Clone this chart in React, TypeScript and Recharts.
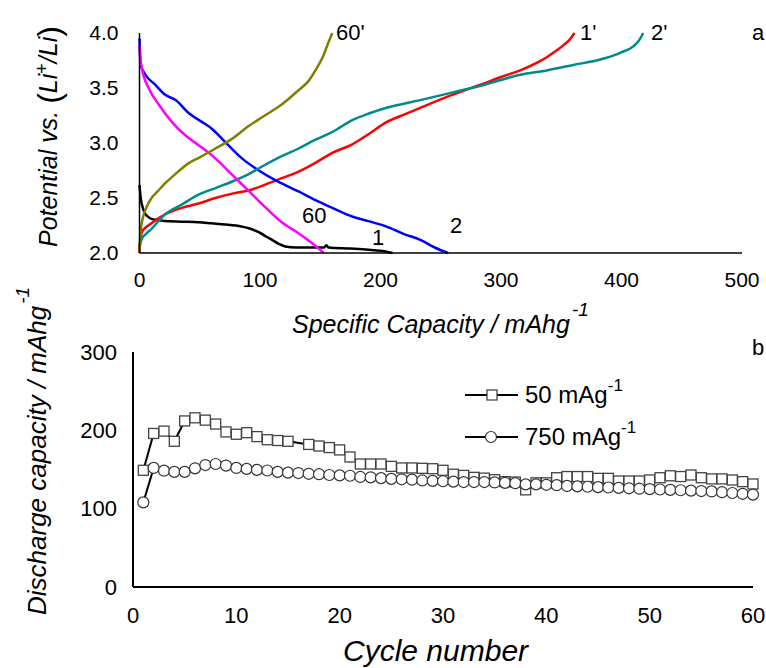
import React from 'react';
import { LineChart, Line, XAxis, YAxis } from 'recharts';

const FONT = '"Liberation Sans", Arial, Helvetica, sans-serif';

type Pt = [number, number];

// panel a: [specific capacity mAh/g, potential V]
const discharge1: Pt[] = [
  [0, 2.62], [1, 2.5], [2, 2.44], [4, 2.37], [7, 2.33], [10, 2.31], [15, 2.3], [21, 2.29],
  [35, 2.285], [49, 2.28], [60, 2.27], [71, 2.26], [80, 2.25], [85, 2.24], [92, 2.22],
  [99, 2.19], [105, 2.15], [110, 2.12], [116, 2.08], [121, 2.06], [130, 2.05], [140, 2.05],
  [153, 2.05], [155, 2.07], [157, 2.05], [175, 2.04], [190, 2.03], [200, 2.02], [210, 2.0],
];
const charge1: Pt[] = [
  [0, 2.0], [0.5, 2.1], [2, 2.19], [5, 2.23], [10, 2.27], [15, 2.31], [21, 2.35], [35, 2.41],
  [49, 2.45], [63, 2.5], [77, 2.54], [91, 2.57], [104, 2.62], [118, 2.68], [132, 2.74],
  [146, 2.82], [160, 2.91], [177, 2.99], [190, 3.08], [205, 3.19], [220, 3.26], [233, 3.32],
  [260, 3.44], [283, 3.53], [300, 3.6], [316, 3.66], [330, 3.73], [338, 3.78], [346, 3.84],
  [352, 3.89], [357, 3.94], [361, 4.0],
];
const discharge2: Pt[] = [
  [0, 3.95], [0.5, 3.78], [1, 3.71], [5, 3.62], [13, 3.53], [21, 3.44], [30, 3.39], [41, 3.27],
  [52, 3.19], [60, 3.13], [71, 3.01], [85, 2.86], [99, 2.75], [113, 2.66], [132, 2.56],
  [146, 2.48], [160, 2.41], [177, 2.33], [190, 2.29], [205, 2.24], [220, 2.17], [233, 2.12],
  [245, 2.05], [256, 2.0],
];
const charge2: Pt[] = [
  [0, 2.05], [0.5, 2.08], [2, 2.13], [5, 2.17], [10, 2.22], [21, 2.35], [35, 2.44], [49, 2.53],
  [63, 2.59], [77, 2.65], [91, 2.72], [104, 2.8], [118, 2.88], [132, 2.95], [146, 3.03],
  [160, 3.1], [177, 3.21], [191, 3.27], [205, 3.32], [233, 3.39], [260, 3.46], [283, 3.52],
  [316, 3.62], [338, 3.66], [360, 3.71], [379, 3.75], [399, 3.82], [411, 3.89], [415, 3.94],
  [418, 4.0],
];
const discharge60: Pt[] = [
  [0, 3.89], [0.5, 3.8], [2, 3.68], [7.6, 3.5], [16, 3.35], [27, 3.19], [38, 3.07], [49, 2.98],
  [63, 2.86], [77, 2.71], [91, 2.56], [104, 2.42], [118, 2.28], [132, 2.18], [143, 2.09],
  [153, 2.0],
];
const charge60: Pt[] = [
  [0, 2.02], [0.5, 2.12], [1, 2.2], [3, 2.33], [6, 2.42], [10, 2.5], [15, 2.56], [21, 2.63],
  [30, 2.72], [40, 2.81], [50, 2.87], [63, 2.95], [77, 3.04], [90, 3.15], [104, 3.25],
  [118, 3.35], [132, 3.48], [140, 3.56], [146, 3.66], [152, 3.78], [157, 3.92], [160, 4.0],
];

const capTicks = [0, 100, 200, 300, 400, 500];
const potTicks = [2, 2.5, 3, 3.5, 4];

// panel b: discharge capacity vs cycle
const cycles = [
  1, 2, 3, 4, 5, 6, 7, 8, 9, 10, 11, 12, 13, 14, 15, 16, 17, 18, 19, 20,
  21, 22, 23, 24, 25, 26, 27, 28, 29, 30, 31, 32, 33, 34, 35, 36, 37, 38, 39, 40,
  41, 42, 43, 44, 45, 46, 47, 48, 49, 50, 51, 52, 53, 54, 55, 56, 57, 58, 59, 60,
];
const cap50: (number | null)[] = [
  149, 196, 199, 186, 212, 216, 213, 208, 198, 195, 197, 192, 188, 187, 186, null, 182, 180, 178, 175,
  166, 157, 157, 157, 154, 152, 152, 151.5, 151, 149, 144, 142.5, 140, 139, 137, 134.5, 134, 124, 133, 133,
  139.5, 141, 141, 141, 138.7, 138.7, 135.3, 135.3, 135.3, 136.6, 139.5, 142, 141, 143, 139.5, 138, 138, 136.6, 134.5, 131.5,
];
const cap750 = [
  108, 152, 148.5, 147, 147, 151.5, 155.7, 157, 155, 152, 150.8, 149.5, 148.7, 147, 146, 145.5, 144.5, 144, 143, 142.5,
  142, 140.5, 140, 139, 138, 137.5, 137, 136, 135.5, 135, 134.5, 134, 134, 134, 133.5, 133, 132.5, 131, 131, 130.5,
  130, 129, 128.5, 128, 127.5, 127, 126.5, 126, 125.5, 125, 124.5, 124, 123.5, 123, 122.5, 122, 121, 120, 119, 118,
];
const cycleTicks = [0, 10, 20, 30, 40, 50, 60];
const dischargeTicks = [0, 100, 200, 300];

const curves = [
  { key: '1', color: '#000000', pts: discharge1 },
  { key: "1'", color: '#ff0000', pts: charge1 },
  { key: '2', color: '#0000ff', pts: discharge2 },
  { key: "2'", color: '#008b8b', pts: charge2 },
  { key: '60', color: '#ff00ff', pts: discharge60 },
  { key: "60'", color: '#808000', pts: charge60 },
];

const cycleRows = cycles.map((c, i) => ({ cycle: c, low: cap50[i], high: cap750[i] }));

const SquareDot = (props: any) => {
  const { cx, cy, index } = props;
  if (cx == null || cy == null || props.value == null) return <g key={`sq${index}`} />;
  return (
    <rect
      key={`sq${index}`}
      x={cx - 5}
      y={cy - 5}
      width={10}
      height={10}
      fill="#fff"
      stroke="#444"
      strokeWidth={1.3}
    />
  );
};

const tickStyle = { fontSize: 21, fill: '#000', fontFamily: FONT };

export default function App() {
  return (
    <div
      style={{
        position: 'absolute',
        left: 0,
        top: 0,
        width: 766,
        height: 668,
        background: '#fff',
        fontFamily: FONT,
      }}
    >
      <div style={{ position: 'absolute', left: 0, top: 0 }}>
        <LineChart width={766} height={330} margin={{ top: 33, right: 24, bottom: 0, left: 0 }}>
          <XAxis
            type="number"
            dataKey="x"
            domain={[0, 500]}
            ticks={capTicks}
            interval={0}
            tickLine={false}
            tickSize={0}
            tickMargin={19}
            height={77}
            axisLine={{ stroke: '#000', strokeWidth: 1.5 }}
            tick={tickStyle}
            allowDuplicatedCategory={false}
          />
          <YAxis
            type="number"
            domain={[2, 4]}
            ticks={potTicks}
            interval={0}
            tickLine={false}
            tickSize={0}
            tickMargin={21}
            width={139.5}
            axisLine={{ stroke: '#000', strokeWidth: 1.5 }}
            tick={tickStyle}
            tickFormatter={(v: number) => v.toFixed(1)}
          />
          {curves.map((c) => (
            <Line
              key={c.key}
              data={c.pts.map(([x, y]) => ({ x, y }))}
              dataKey="y"
              type="monotone"
              stroke={c.color}
              strokeWidth={2.5}
              dot={false}
              isAnimationActive={false}
            />
          ))}
        </LineChart>
      </div>

      <div style={{ position: 'absolute', left: 0, top: 330 }}>
        <LineChart
          width={766}
          height={338}
          data={cycleRows}
          margin={{ top: 22, right: 13, bottom: 0, left: 0 }}
        >
          <XAxis
            type="number"
            dataKey="cycle"
            domain={[0, 60]}
            ticks={cycleTicks}
            interval={0}
            tickLine={false}
            tickSize={0}
            tickMargin={20}
            height={81}
            axisLine={{ stroke: '#000', strokeWidth: 2 }}
            tick={{ ...tickStyle, fontSize: 22 }}
          />
          <YAxis
            type="number"
            domain={[0, 300]}
            ticks={dischargeTicks}
            interval={0}
            tickLine={false}
            tickSize={0}
            tickMargin={16}
            width={133}
            axisLine={{ stroke: '#000', strokeWidth: 2 }}
            tick={{ ...tickStyle, fontSize: 22 }}
          />
          <Line
            dataKey="low"
            type="linear"
            stroke="#000"
            strokeWidth={2}
            connectNulls
            dot={(p: any) => <SquareDot {...p} />}
            isAnimationActive={false}
          />
          <Line
            dataKey="high"
            type="linear"
            stroke="#000"
            strokeWidth={2}
            dot={{ r: 5.5, fill: '#fff', stroke: '#333', strokeWidth: 1.2 }}
            isAnimationActive={false}
          />
        </LineChart>
      </div>

      <svg
        width={766}
        height={668}
        style={{ position: 'absolute', left: 0, top: 0, pointerEvents: 'none' }}
        fontFamily={FONT}
      >
        {/* curve labels, panel a */}
        <g fontSize={22} fill="#000">
          <text x={336} y={40}>60'</text>
          <text x={580} y={40}>1'</text>
          <text x={651} y={40}>2'</text>
          <text x={302} y={223}>60</text>
          <text x={372} y={245}>1</text>
          <text x={450} y={233}>2</text>
          <text x={752} y={40}>a</text>
          <text x={752} y={355}>b</text>
        </g>

        {/* axis titles */}
        <text transform="translate(57,247) rotate(-90)" fontSize={25} fontStyle="italic">
          Potential vs.{' '}
          <tspan fontStyle="normal" fontSize={32} dy={3}>(</tspan>
          <tspan dy={-3}>Li</tspan>
          <tspan fontSize={18} dy={-9} fontStyle="normal">+</tspan>
          <tspan dy={9}>/Li</tspan>
          <tspan fontStyle="normal" fontSize={32} dy={3}>)</tspan>
        </text>
        <text x={292} y={333} fontSize={25} fontStyle="italic">
          Specific Capacity / mAhg
          <tspan fontSize={19} dy={-17} dx={2}>-1</tspan>
        </text>
        <text transform="translate(46,615) rotate(-90)" fontSize={26} fontStyle="italic">
          Discharge capacity / mAhg
          <tspan fontSize={19} dy={-17} dx={2}>-1</tspan>
        </text>
        <text x={343} y={661} fontSize={30} fontStyle="italic">
          Cycle number
        </text>

        {/* legend, panel b */}
        <g stroke="#000" strokeWidth={2}>
          <line x1={465} y1={395} x2={518} y2={395} />
          <line x1={465} y1={437} x2={518} y2={437} />
        </g>
        <rect x={487} y={390} width={10} height={10} fill="#fff" stroke="#444" strokeWidth={1.3} />
        <circle cx={491} cy={437} r={5.5} fill="#fff" stroke="#333" strokeWidth={1.2} />
        <text x={525} y={403} fontSize={24}>
          50 mAg<tspan fontSize={17} dy={-12}>-1</tspan>
        </text>
        <text x={525} y={445} fontSize={24}>
          750 mAg<tspan fontSize={17} dy={-12}>-1</tspan>
        </text>
      </svg>
    </div>
  );
}
